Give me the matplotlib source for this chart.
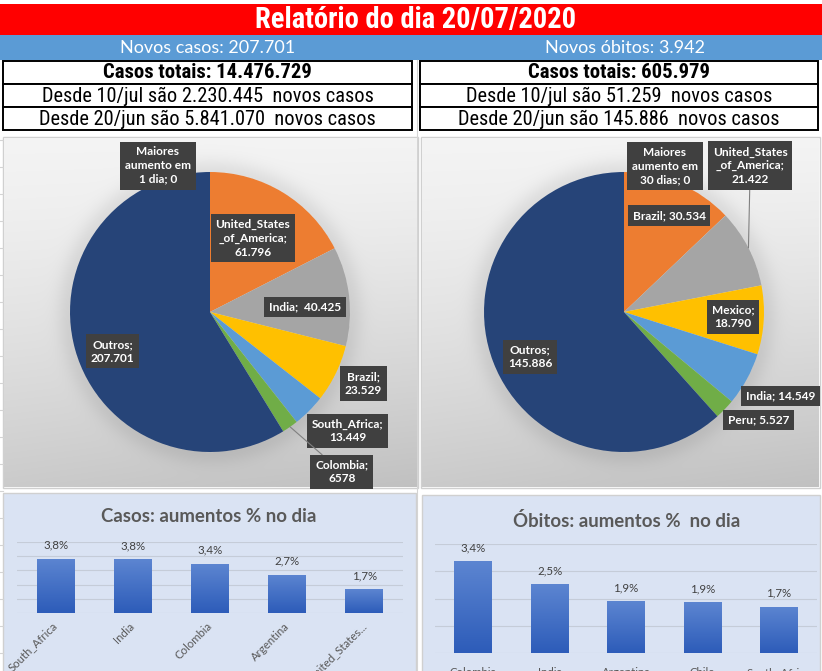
import numpy as np
import matplotlib
matplotlib.use("Agg")
import matplotlib.pyplot as plt
from matplotlib import font_manager
from matplotlib.patches import Rectangle

# ---------------- data ----------------
TITLE = "Relatório do dia 20/07/2020"
NEW_CASES = "Novos casos: 207.701"
NEW_DEATHS = "Novos óbitos: 3.942"
cases_lines = ["Casos totais: 14.476.729",
               "Desde 10/jul são 2.230.445  novos casos",
               "Desde 20/jun são 5.841.070  novos casos"]
deaths_lines = ["Casos totais: 605.979",
                "Desde 10/jul são 51.259  novos casos",
                "Desde 20/jun são 145.886  novos casos"]

pie_cases_values = [0, 61796, 40425, 23529, 13449, 6578, 207701]
pie_cases_labels = ["Maiores\naumento em\n1 dia; 0", "United_States\n_of_America;\n61.796",
                    "India;  40.425", "Brazil;\n23.529", "South_Africa;\n13.449",
                    "Colombia;\n6578", "Outros;\n207.701"]
pie_deaths_values = [0, 30534, 21422, 18790, 14549, 5527, 145886]
pie_deaths_labels = ["Maiores\naumento em\n30 dias; 0", "Brazil; 30.534",
                     "United_States\n_of_America;\n21.422", "Mexico;\n18.790",
                     "India; 14.549", "Peru; 5.527", "Outros;\n145.886"]

bar_cases_cats = ["South_Africa", "India", "Colombia", "Argentina", "United_States..."]
bar_cases_vals = [3.82, 3.77, 3.44, 2.70, 1.66]
bar_deaths_cats = ["Colombia", "India", "Argentina", "Chile", "South_Africa"]
bar_deaths_vals = [3.36, 2.52, 1.89, 1.86, 1.69]
BAR_TITLE_CASES = "Casos: aumentos % no dia"
BAR_TITLE_DEATHS = "Óbitos: aumentos %  no dia"

# ---------------- style / layout ----------------
PIE_COLORS = ['#4472C4', '#ED7D31', '#A5A5A5', '#FFC000', '#5B9BD5', '#70AD47', '#264478']
W, H = 822, 671


def pick(cands):
    for c in cands:
        try:
            font_manager.findfont(font_manager.FontProperties(family=c), fallback_to_default=False)
            return c
        except Exception:
            pass
    return "DejaVu Sans"


NARROW = pick(["Liberation Sans Narrow", "Arial Narrow", "Roboto Condensed", "Roboto", "Liberation Sans"])
CAL = pick(["Lato", "Open Sans", "DejaVu Sans"])

fig = plt.figure(figsize=(W / 100, H / 100), dpi=100)
fig.patch.set_facecolor('white')
bg = fig.add_axes([0, 0, 1, 1])
bg.set_xlim(0, W)
bg.set_ylim(H, 0)
bg.axis('off')
renderer = fig.canvas.get_renderer()


def fit(texts, ref, target):
    w = ref.get_window_extent(renderer).width
    s = ref.get_fontsize() * target / w
    for t in texts:
        t.set_fontsize(s)


def size_for(s, target, **kw):
    t = bg.text(0, 0, s, fontsize=10, **kw)
    w = t.get_window_extent(renderer).width
    t.remove()
    return 10 * target / w


def add_ax(x0, y0, x1, y1):
    return fig.add_axes([x0 / W, 1 - y1 / H, (x1 - x0) / W, (y1 - y0) / H])


# faint spreadsheet gridlines
for yy in range(140, 671, 27):
    bg.plot([0, 3], [yy, yy], color='#D4D4D4', lw=0.8)
bg.plot([416.5, 416.5], [60, 671], color='#D4D4D4', lw=0.8)

# header
bg.add_patch(Rectangle((0, 4), W, 31, fc='#FF0000', ec='none'))
bg.add_patch(Rectangle((0, 35), W, 25, fc='#5B9BD5', ec='none'))
t_title = bg.text(416, 20.5, TITLE, ha='center', va='center', color='white',
                  fontweight='bold', family=NARROW, fontsize=16)
fit([t_title], t_title, 322)
t_nc = bg.text(208, 48, NEW_CASES, ha='center', va='center', color='white',
               family=CAL, fontweight='normal', fontsize=12)
t_nd = bg.text(625, 48, NEW_DEATHS, ha='center', va='center', color='white',
               family=CAL, fontweight='normal', fontsize=12)
fit([t_nc, t_nd], t_nc, 175)

row_tops = [61, 84, 107]
cols = [(3, 412, cases_lines), (420, 818, deaths_lines)]
bold_texts, reg_texts = [], []
for x0, x1, lines in cols:
    for i, (yt, s) in enumerate(zip(row_tops, lines)):
        bg.add_patch(Rectangle((x0, yt), x1 - x0, 23, fc='white', ec='black', lw=1.4))
        t = bg.text((x0 + x1) / 2, yt + 12, s, ha='center', va='center', color='black',
                    family=NARROW, fontweight='bold' if i == 0 else 'normal', fontsize=12)
        (bold_texts if i == 0 else reg_texts).append(t)
fit(bold_texts, bold_texts[0], 208)
fit(reg_texts, reg_texts[0], 331)

LABEL_FS = size_for("United_States", 75, family=CAL, fontweight='bold')


# ---------------- pies ----------------
def draw_pie(panel, center, R, values, labels, label_polar, leader_idx):
    x0, y0, x1, y1 = panel
    bg.add_patch(Rectangle((x0, y0), x1 - x0, y1 - y0, fc='none', ec='#D0D0D0', lw=1))
    ax = add_ax(x0 + 1, y0 + 1, x1 - 1, y1 - 1)
    xl = ((x0 + 1 - center[0]) / R, (x1 - 1 - center[0]) / R)
    yl = ((center[1] - y1 + 1) / R, (center[1] - y0 - 1) / R)
    gx = np.linspace(xl[0], xl[1], 300)
    gy = np.linspace(yl[0], yl[1], 260)
    X, Y = np.meshgrid(gx, gy)
    t = (yl[1] - Y) / (yl[1] - yl[0])
    s = (X - xl[0]) / (xl[1] - xl[0])
    r = np.sqrt(X ** 2 + Y ** 2)
    g = 0.955 - 0.16 * t ** 1.4 - 0.04 * s * t
    g -= 0.07 * np.exp(-((r - 1.0) / 0.10) ** 2) * (r > 1)
    img = np.dstack([g, g, g]).clip(0, 1)
    ax.imshow(img, extent=(xl[0], xl[1], yl[0], yl[1]), origin='lower',
              aspect='auto', zorder=0, interpolation='bilinear')
    wedges, _ = ax.pie(values, colors=PIE_COLORS, startangle=90, counterclock=False,
                       radius=1, wedgeprops=dict(linewidth=0))
    ax.set_aspect('auto')
    ax.set_xlim(*xl)
    ax.set_ylim(*yl)
    ax.axis('off')
    for i, (lab, (rr, deg)) in enumerate(zip(labels, label_polar)):
        pos = (rr * np.cos(np.radians(deg)), rr * np.sin(np.radians(deg)))
        kw = dict(ha='center', va='center', color='white', fontweight='bold', family=CAL,
                  fontsize=LABEL_FS, linespacing=1.3, zorder=5,
                  bbox=dict(boxstyle='square,pad=0.4', fc='#404040', ec='none'))
        if i in leader_idx:
            w = wedges[i]
            mid = np.radians((w.theta1 + w.theta2) / 2)
            ax.annotate(lab, xy=(np.cos(mid), np.sin(mid)), xytext=pos,
                        arrowprops=dict(arrowstyle='-', color='#808080', lw=0.8,
                                        shrinkA=0, shrinkB=0), **kw)
        else:
            ax.text(pos[0], pos[1], lab, **kw)
    return ax


draw_pie((3, 137, 418, 488), (210, 312), 140, pie_cases_values, pie_cases_labels,
         [(1.11, 109.6), (0.61, 59.8), (0.68, 3), (1.21, -25), (1.30, -40.8),
          (1.48, -50.5), (0.75, -158)], [5])
draw_pie((421, 137, 820, 488), (624, 312), 140, pie_deaths_values, pie_deaths_labels,
         [(1.08, 74.3), (0.76, 64.9), (1.38, 49.2), (0.78, -2.6), (1.27, -28.2),
          (1.235, -38.7), (0.745, -154.4)], [2])


# ---------------- bars ----------------
def vgrad(bottom, top, n=100):
    b = np.array(matplotlib.colors.to_rgb(bottom))
    tp = np.array(matplotlib.colors.to_rgb(top))
    f = np.linspace(0, 1, n)[:, None]
    return (b + (tp - b) * f)[:, None, :]


GRAD = vgrad('#2D5CB9', '#5C85D1')


def draw_bar(panel, axbox, cats, vals, ymax, title, title_xy, title_w, rotated):
    x0, y0, x1, y1 = panel
    bg.add_patch(Rectangle((x0, y0), x1 - x0, y1 - y0 + 5, fc='#DAE3F3', ec='#D0D0D0', lw=1))
    ax = add_ax(*axbox)
    ax.set_facecolor('none')
    xs = np.arange(len(vals))
    bars = ax.bar(xs, vals, width=0.49, color='#4472C4', zorder=2)
    for b in bars:
        im = ax.imshow(GRAD, extent=(b.get_x(), b.get_x() + b.get_width(), 0, b.get_height()),
                       origin='lower', aspect='auto', zorder=3, interpolation='bilinear')
        im.set_clip_path(b)
    ax.set_aspect('auto')
    ax.set_xlim(-0.5, len(vals) - 0.5)
    ax.set_ylim(0, ymax)
    ax.set_yticks(np.arange(0, ymax + 1))
    ax.yaxis.grid(True, color='#C5CCD8', lw=0.8)
    ax.set_axisbelow(True)
    for sp in ax.spines.values():
        sp.set_visible(False)
    ax.tick_params(left=False, labelleft=False, length=0)
    ax.set_xticks(xs)
    if rotated:
        ax.set_xticklabels(cats, rotation=45, ha='right', va='center', rotation_mode='anchor',
                           family=CAL, fontsize=8.2, color='#595959')
        ax.tick_params(axis='x', pad=8)
    else:
        ax.set_xticklabels(cats, family=CAL, fontsize=8.2, color='#595959')
        ax.tick_params(axis='x', pad=10)
    for x, v in zip(xs, vals):
        ax.annotate(f"{v:.1f}".replace('.', ',') + '%', (x, v), xytext=(0, 6),
                    textcoords='offset points', ha='center', va='bottom',
                    family=CAL, fontsize=8.3, color='#404040')
    t = bg.text(title_xy[0], title_xy[1], title, ha='center', va='center',
                color='#595959', fontweight='bold', family=CAL, fontsize=13)
    fit([t], t, title_w)
    return ax


draw_bar((3, 493, 416, 671), (17, 542, 403, 613), bar_cases_cats, bar_cases_vals, 5,
         BAR_TITLE_CASES, (209, 516), 215, True)
draw_bar((422, 495, 820, 671), (435, 544, 817, 653), bar_deaths_cats, bar_deaths_vals, 4,
         BAR_TITLE_DEATHS, (627, 521), 227, False)

fig.savefig("out.png", dpi=100)
